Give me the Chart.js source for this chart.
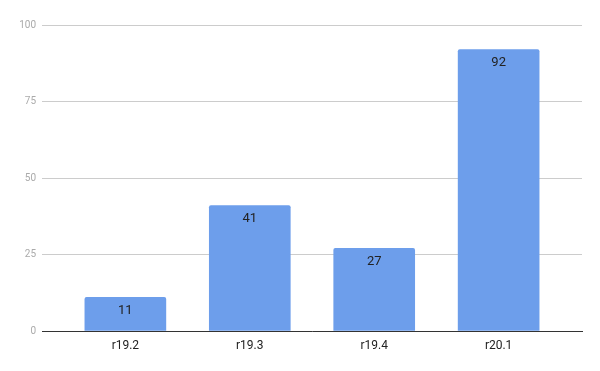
<!DOCTYPE html>
<html lang="en">
<head>
  <meta charset="UTF-8">
  <title>Releases</title>
  <style>
    body { margin: 0; background: #fff; font-family: Roboto, Arial, sans-serif; }
    .chart-container { width: 600px; height: 371px; }
  </style>
</head>
<body>
  <div class="chart-container">
    <canvas id="barChart"></canvas>
  </div>

  <script src="https://cdn.jsdelivr.net/npm/chart.js"></script>
  <script>
    const categories = ['r19.2', 'r19.3', 'r19.4', 'r20.1'];
    const values = [11, 41, 27, 92];
    const yTicks = [0, 25, 50, 75, 100];

    // value labels drawn inside the top of each bar
    const barLabels = {
      id: 'barLabels',
      afterDatasetsDraw(chart) {
        const ctx = chart.ctx;
        const meta = chart.getDatasetMeta(0);
        ctx.save();
        ctx.font = '13px Roboto, Arial, sans-serif';
        ctx.fillStyle = '#222';
        ctx.textAlign = 'center';
        ctx.textBaseline = 'middle';
        meta.data.forEach((bar, i) => {
          ctx.fillText(values[i], bar.x, bar.y + 13);
        });
        ctx.restore();
      }
    };

    const ctx = document.getElementById('barChart').getContext('2d');
    new Chart(ctx, {
      type: 'bar',
      data: {
        datasets: [{
          data: values.map((v, i) => ({ x: i, y: v })),
          backgroundColor: '#6d9eeb',
          borderRadius: 2,
          borderSkipped: 'bottom',
          barThickness: 81
        }]
      },
      options: {
        responsive: true,
        maintainAspectRatio: false,
        animation: false,
        layout: { padding: { top: 25, right: 18, left: 0, bottom: 0 } },
        plugins: {
          legend: { display: false },
          tooltip: { enabled: false }
        },
        scales: {
          x: {
            type: 'linear',
            offset: false,
            min: -0.67,
            max: 3.67,
            afterBuildTicks(axis) {
              axis.ticks = categories.map((c, i) => ({ value: i }));
            },
            afterFit(axis) { axis.height = 40; },
            ticks: {
              callback: (v) => categories[v],
              color: '#222',
              font: { size: 12, family: 'Roboto, Arial, sans-serif' },
              padding: 8,
              maxRotation: 0
            },
            grid: { display: false, drawTicks: false },
            border: { color: '#333', width: 1 }
          },
          y: {
            min: 0,
            max: 100,
            afterBuildTicks(axis) {
              axis.ticks = yTicks.map(v => ({ value: v }));
            },
            afterFit(axis) { axis.width = 42; },
            ticks: {
              color: '#aaa',
              font: { size: 10, family: 'Roboto, Arial, sans-serif' },
              padding: 6
            },
            grid: { color: '#ccc', drawTicks: false },
            border: { display: false }
          }
        }
      },
      plugins: [barLabels]
    });
  </script>
</body>
</html>
